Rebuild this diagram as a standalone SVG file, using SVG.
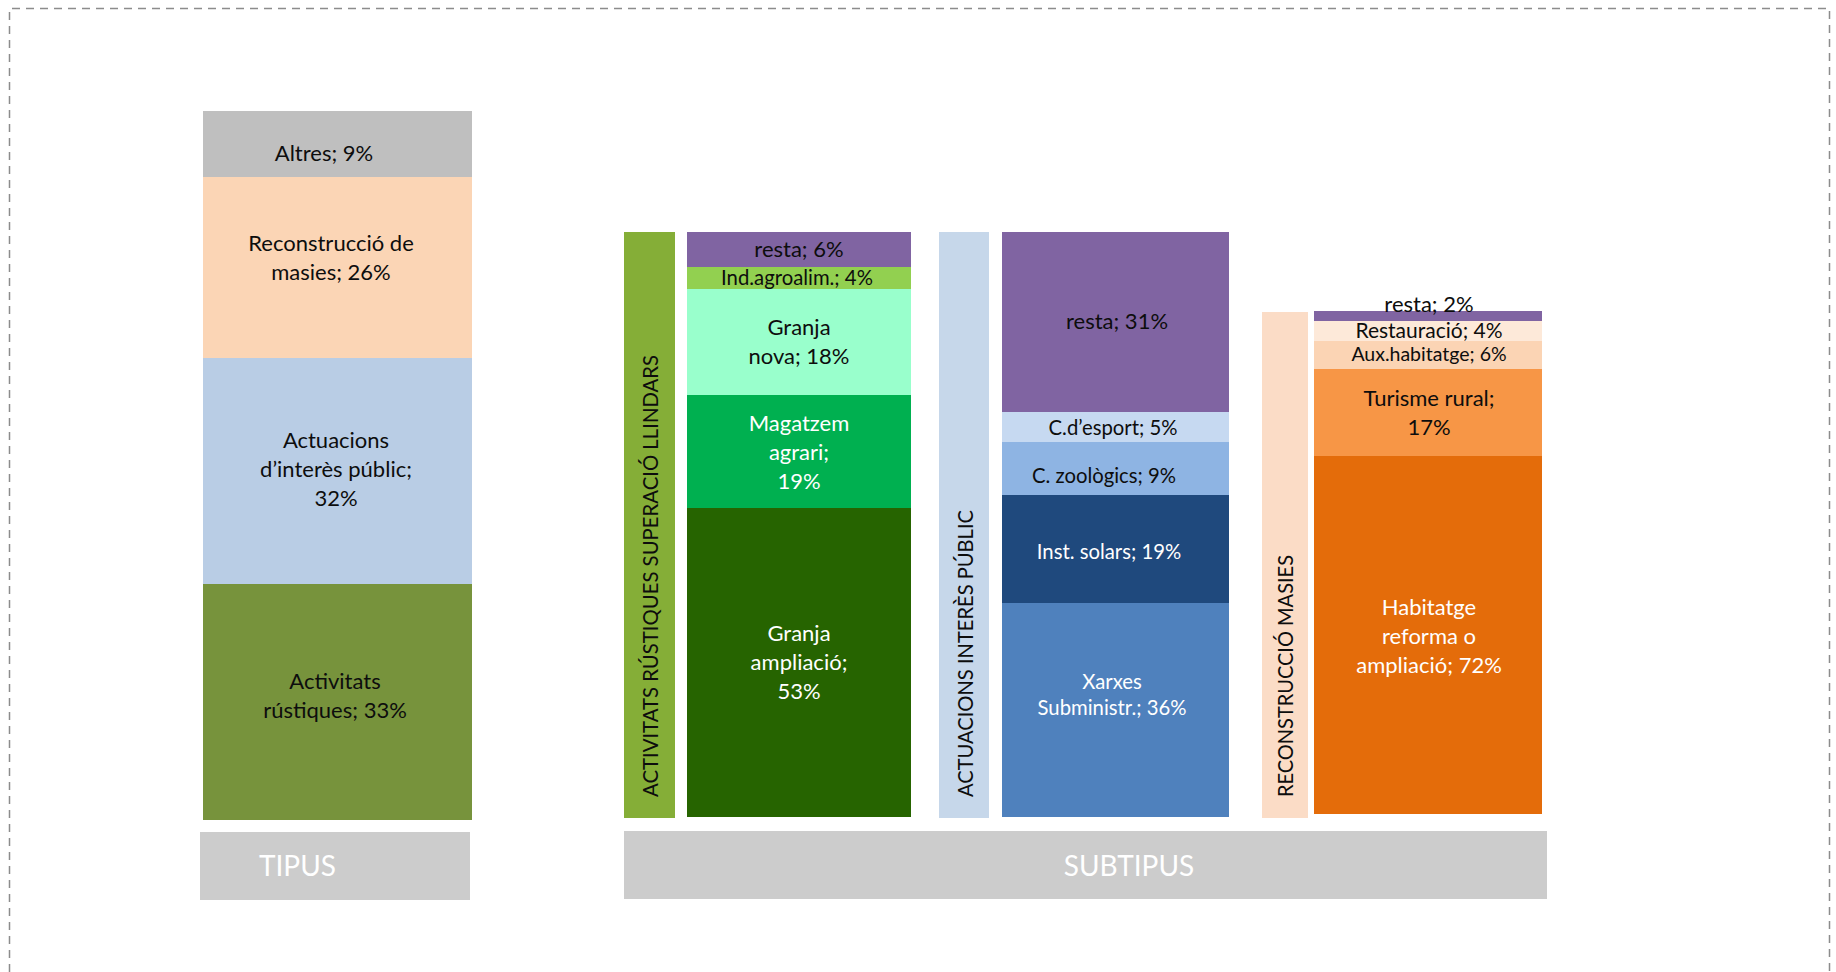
<svg xmlns="http://www.w3.org/2000/svg" width="1836" height="972" viewBox="0 0 1836 972">
<style>
text{font-family:Lato,"Noto Sans","Liberation Sans",sans-serif;}
.l{font-size:22px;fill:#0d0d0d;text-anchor:middle;}
.s{font-size:20.3px;fill:#0d0d0d;text-anchor:middle;}
.w{fill:#ffffff;}
.v{font-size:21px;fill:#0d0d0d;}
.h{font-size:28px;fill:#ffffff;}
</style>
<rect width="1836" height="972" fill="#ffffff"/>
<path d="M9.5,972 V8.5 H1829.5 V972" fill="none" stroke="#8c8c8c" stroke-width="1.5" stroke-dasharray="8 6"/>

<g id="tipus">
<rect x="203" y="111" width="269" height="66" fill="#BFBFBF"/>
<rect x="203" y="177" width="269" height="181" fill="#FBD5B5"/>
<rect x="203" y="358" width="269" height="226" fill="#B9CDE5"/>
<rect x="203" y="584" width="269" height="236" fill="#77933C"/>
<text class="l" x="324" y="161">Altres; 9%</text>
<text class="l" x="331" y="251">Reconstrucció de</text>
<text class="l" x="331" y="279.5">masies; 26%</text>
<text class="l" x="336" y="448">Actuacions</text>
<text class="l" x="336" y="477">d’interès públic;</text>
<text class="l" x="336" y="506">32%</text>
<text class="l" x="335" y="689">Activitats</text>
<text class="l" x="335" y="718">rústiques; 33%</text>
</g>

<g id="tipus-label">
<rect x="200" y="832" width="270" height="68" fill="#CCCCCC"/>
<text class="h" x="259" y="876">TIPUS</text>
</g>

<g id="subtipus-label">
<rect x="624" y="831" width="923" height="68" fill="#CCCCCC"/>
<text class="h" x="1129" y="876" text-anchor="middle">SUBTIPUS</text>
</g>

<g id="activitats-bar">
<rect x="624" y="232" width="51" height="586" fill="#85AE37"/>
<text class="v" transform="translate(657.5,797) rotate(-90)" textLength="442" lengthAdjust="spacingAndGlyphs">ACTIVITATS RÚSTIQUES SUPERACIÓ LLINDARS</text>
</g>

<g id="activitats-sub">
<rect x="687" y="232" width="224" height="35" fill="#8064A2"/>
<rect x="687" y="267" width="224" height="22" fill="#92D050"/>
<rect x="687" y="289" width="224" height="106" fill="#99FFCC"/>
<rect x="687" y="395" width="224" height="113" fill="#00B050"/>
<rect x="687" y="508" width="224" height="309" fill="#266400"/>
<text class="l" x="799" y="257">resta; 6%</text>
<text class="s" x="797" y="285">Ind.agroalim.; 4%</text>
<text class="l" x="799" y="335">Granja</text>
<text class="l" x="799" y="364">nova; 18%</text>
<text class="l w" x="799" y="431">Magatzem</text>
<text class="l w" x="799" y="460">agrari;</text>
<text class="l w" x="799" y="489">19%</text>
<text class="l w" x="799" y="641">Granja</text>
<text class="l w" x="799" y="670">ampliació;</text>
<text class="l w" x="799" y="699">53%</text>
</g>

<g id="actuacions-bar">
<rect x="939" y="232" width="50" height="586" fill="#C6D7EA"/>
<text class="v" transform="translate(972.5,797) rotate(-90)" textLength="287" lengthAdjust="spacingAndGlyphs">ACTUACIONS INTERÈS PÚBLIC</text>
</g>

<g id="actuacions-sub">
<rect x="1002" y="232" width="227" height="180" fill="#8064A2"/>
<rect x="1002" y="412" width="227" height="30" fill="#C6D9F1"/>
<rect x="1002" y="442" width="227" height="53" fill="#8EB4E3"/>
<rect x="1002" y="495" width="227" height="108" fill="#1F497D"/>
<rect x="1002" y="603" width="227" height="214" fill="#4F81BD"/>
<text class="l" x="1117" y="329">resta; 31%</text>
<text class="s" x="1113" y="435">C.d’esport; 5%</text>
<text class="s" x="1104" y="482.5">C. zoològics; 9%</text>
<text class="s w" x="1109" y="559">Inst. solars; 19%</text>
<text class="s w" x="1112" y="689">Xarxes</text>
<text class="s w" x="1112" y="714.5">Subministr.; 36%</text>
</g>

<g id="masies-bar">
<rect x="1262" y="312" width="46" height="506" fill="#FBDCC6"/>
<text class="v" transform="translate(1293,797) rotate(-90)" textLength="242" lengthAdjust="spacingAndGlyphs">RECONSTRUCCIÓ MASIES</text>
</g>

<g id="masies-sub">
<rect x="1314" y="311" width="228" height="10" fill="#8064A2"/>
<rect x="1314" y="321" width="228" height="20" fill="#FDE9D9"/>
<rect x="1314" y="341" width="228" height="28" fill="#FBD4B4"/>
<rect x="1314" y="369" width="228" height="87" fill="#F79646"/>
<rect x="1314" y="456" width="228" height="358" fill="#E46C0A"/>
<text class="l" x="1429" y="311.5">resta; 2%</text>
<text class="l" x="1429" y="338" style="font-size:21px">Restauració; 4%</text>
<text class="s" x="1429" y="361" style="font-size:19.5px">Aux.habitatge; 6%</text>
<text class="l" x="1429" y="406">Turisme rural;</text>
<text class="l" x="1429" y="434.5">17%</text>
<text class="l w" x="1429" y="615">Habitatge</text>
<text class="l w" x="1429" y="644">reforma o</text>
<text class="l w" x="1429" y="672.5">ampliació; 72%</text>
</g>
</svg>
